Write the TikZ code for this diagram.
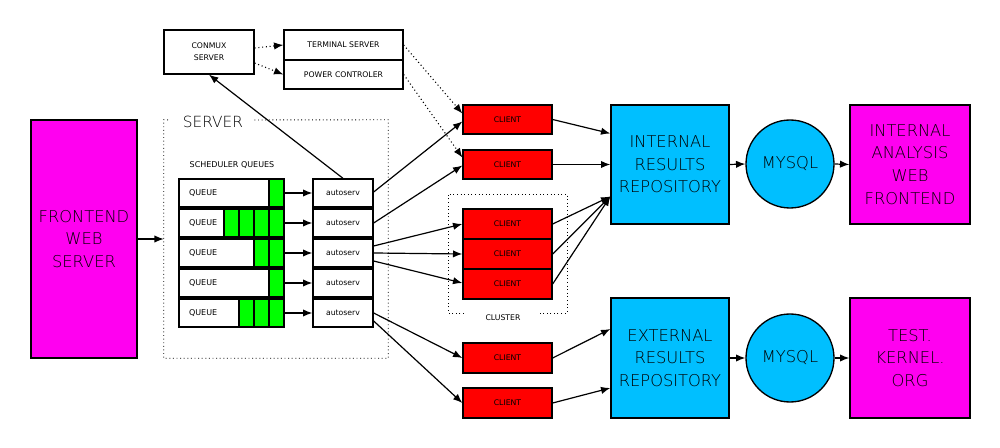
\documentclass[tikz,border=0pt]{standalone}
\usepackage{fontspec}
\setmainfont{DejaVu Sans}
\newfontfamily\lightf{DejaVu Sans ExtraLight}
\usetikzlibrary{fit,calc,arrows.meta}
\definecolor{mag}{HTML}{FF00F0}
\definecolor{sky}{HTML}{00BFFF}
\definecolor{qgreen}{HTML}{00FF00}
\definecolor{cred}{HTML}{FF0000}
\begin{document}
\begin{tikzpicture}[x=0.75pt,y=-0.75pt,
  box/.style={draw, line width=1pt, inner sep=0pt},
  big/.style={font=\lightf\fontsize{12.2}{17}\selectfont, align=center},
  tiny/.style={font=\fontsize{5.8}{9}\selectfont, align=center},
  small/.style={font=\fontsize{6}{9}\selectfont},
  arr/.style={-{Latex[length=7pt,width=5.5pt]}, line width=0.9pt},
  darr/.style={-{Latex[length=7pt,width=5.5pt]}, line width=0.8pt, dotted},
  grp/.style={dotted, line width=0.7pt},
  client/.style={box, fill=cred},
  repo/.style={box, fill=sky, big},
  web/.style={box, fill=mag, big},
  db/.style={draw, line width=1pt, circle, fill=sky, minimum size=66pt, inner sep=0pt, font=\lightf\fontsize{12.2}{17}\selectfont}]

\useasboundingbox (0,0) rectangle (1000,448);

% frontend
\node[web, fit={(31,120)(137,358)}] (fe) {};
\node[big] (fet) at (fe.center) {FRONTEND\\WEB\\SERVER};

% conmux etc
\node[box, fit={(164,30)(254,74)}] (cm) {};
\node[tiny] (cmt) at (cm.center) {CONMUX\\SERVER};
\node[box, fit={(284,30)(403,60)}] (ts) {};
\node[tiny] (tst) at (ts.center) {TERMINAL SERVER};
\node[box, fit={(284,60)(403,89)}] (pc) {};
\node[tiny] (pct) at (pc.center) {POWER CONTROLER};
\draw[darr] ($(cm.east)+(0,-4)$) -- (ts.west);
\draw[darr] ($(cm.east)+(0,11)$) -- (pc.west);

% server group
\node[inner sep=0pt, fit={(164,120)(388,358)}] (srv) {};
\draw[grp] (168,120) -- (srv.north west) -- (srv.south west) -- (srv.south east) -- (srv.north east) -- (254,120);
\node[font=\lightf\fontsize{11.5}{13}\selectfont] (srvt) at (213,122) {SERVER};
\node[small] (sq) at (232,165) {SCHEDULER QUEUES};

% queues
\foreach \i/\ya/\yb/\n in {1/179/207/1, 2/209/237/4, 3/239/267/2, 4/269/297/1, 5/299/327/3} {
  \node[box, fit={(179,\ya)(284,\yb)}] (q\i) {};
  \foreach \k in {1,...,\n} {
    \draw[line width=1pt, fill=qgreen] ({284-15*\k},\ya) rectangle ({284-15*(\k-1)},\yb);
  }
  \node[small, anchor=west] (qt\i) at ($(q\i.west)+(6,0)$) {QUEUE};
  \node[box, fit={(313,\ya)(373,\yb)}] (a\i) {};
  \node[tiny] (at\i) at (a\i.center) {autoserv};
  \draw[arr] (q\i.east) -- (a\i.west);
}

\draw[arr] (fe.east) -- (fe.east -| srv.west);
\draw[arr] (a1.north) -- (cm.south);

% clients
\node[client, fit={(463,105)(552,134)}] (c1) {};
\node[client, fit={(463,150)(552,179)}] (c2) {};
\node[client, fit={(463,209)(552,239)}] (k1) {};
\node[client, fit={(463,239)(552,269)}] (k2) {};
\node[client, fit={(463,269)(552,299)}] (k3) {};
\node[client, fit={(463,343)(552,373)}] (c4) {};
\node[client, fit={(463,388)(552,418)}] (c5) {};
\foreach \c in {c1,c2,k1,k2,k3,c4,c5} {
  \node[tiny] (\c t) at (\c.center) {CLIENT};
}

% cluster group
\draw[grp] (464,313) -- (448,313) -- (448,194) -- (567,194) -- (567,313) -- (540,313);
\node[tiny] (clt) at (503,318) {CLUSTER};

% dotted to clients
\draw[darr] (ts.east) -- ($(c1.west)+(0,-6)$);
\draw[darr] (pc.east) -- ($(c2.west)+(0,-7)$);

% autoserv -> clients
\draw[arr] ($(a1.east)+(0,-1)$) -- ($(c1.west)+(0,2)$);
\draw[arr] ($(a2.east)+(0,0)$) -- ($(c2.west)+(0,1)$);
\draw[arr] ($(a3.east)+(0,-7)$) -- (k1.west);
\draw[arr] (a3.east) -- (k2.west);
\draw[arr] ($(a3.east)+(0,8)$) -- ($(k3.west)+(0,-1)$);
\draw[arr] ($(a5.east)+(0,0)$) -- (c4.west);
\draw[arr] ($(a5.east)+(0,8)$) -- (c5.west);

% repos
\node[repo, fit={(611,105)(729,224)}] (ir) {};
\node[big] (irt) at (ir.center) {INTERNAL\\RESULTS\\REPOSITORY};
\node[repo, fit={(611,298)(729,418)}] (er) {};
\node[big] (ert) at (er.center) {EXTERNAL\\RESULTS\\REPOSITORY};
\node[db] (m1) at (790,164) {MYSQL};
\node[db] (m2) at (790,358) {MYSQL};
\node[web, fit={(850,105)(970,224)}] (ia) {};
\node[big] (iat) at (ia.center) {INTERNAL\\ANALYSIS\\WEB\\FRONTEND};
\node[web, fit={(850,298)(970,418)}] (tk) {};
\node[big] (tkt) at (tk.center) {TEST.\\KERNEL.\\ORG};

\draw[arr] (c1.east) -- ($(ir.west)+(0,-31)$);
\draw[arr] (c2.east) -- (ir.west);
\draw[arr] (k1.east) -- ($(ir.west)+(0,32)$);
\draw[arr] (k2.east) -- ($(ir.west)+(0,32)$);
\draw[arr] (k3.east) -- ($(ir.west)+(0,32)$);
\draw[arr] (c4.east) -- ($(er.west)+(0,-29)$);
\draw[arr] (c5.east) -- ($(er.west)+(0,30)$);
\draw[arr] (ir.east) -- (m1.west);
\draw[arr] (m1.east) -- (ia.west);
\draw[arr] (er.east) -- (m2.west);
\draw[arr] (m2.east) -- (tk.west);
\end{tikzpicture}
\end{document}
